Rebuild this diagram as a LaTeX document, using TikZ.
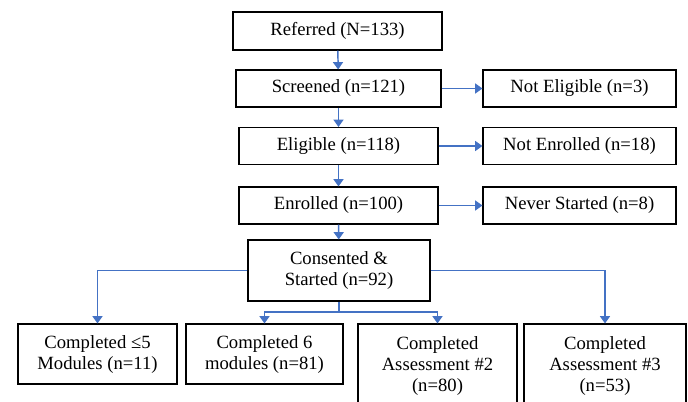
\documentclass[tikz,border=0pt]{standalone}
\usepackage{fontspec}
\setmainfont{Liberation Serif}
\usetikzlibrary{arrows.meta}
\definecolor{flowblue}{RGB}{68,114,196}

\begin{document}
\begin{tikzpicture}[x=0.75pt, y=-0.75pt,
  box/.style={draw, line width=0.8pt, align=center, inner sep=2pt, font=\fontsize{14}{15.75}\selectfont},
  flow/.style={flowblue, line width=1.1pt, -{Triangle[width=7.5pt,length=5.5pt]}},
  link/.style={flowblue, line width=1.1pt}]
  \useasboundingbox (0,0) rectangle (688,401);

  % main column
  \node[box, minimum width=156.75pt, minimum height=28.5pt] (ref) at (337.5,31) {Referred (N=133)};
  \node[box, minimum width=153.75pt, minimum height=27.75pt] (scr) at (338.5,88.5) {Screened (n=121)};
  \node[box, minimum width=149.25pt, minimum height=27.75pt] (elig) at (338.5,146) {Eligible (n=118)};
  \node[box, minimum width=149.25pt, minimum height=27.75pt] (enr) at (338.5,205.5) {Enrolled (n=100)};
  \node[box, minimum width=136.5pt, minimum height=45.75pt] (cons) at (339,270.5) {Consented \&\\Started (n=92)};

  % exclusions
  \node[box, minimum width=144.75pt, minimum height=27.75pt] (notelig) at (579.5,88.5) {Not Eligible (n=3)};
  \node[box, minimum width=144.75pt, minimum height=27.75pt] (notenr) at (579.5,146) {Not Enrolled (n=18)};
  \node[box, minimum width=144.75pt, minimum height=27.75pt] (never) at (579.5,205.5) {Never Started (n=8)};

  % outcomes
  \node[box, minimum width=119.25pt, minimum height=45pt] (fewmod) at (97.5,354) {Completed ≤5\\Modules (n=11)};
  \node[box, minimum width=117.75pt, minimum height=45pt] (sixmod) at (264.5,354) {Completed 6\\modules (n=81)};
  \node[box, minimum width=119.25pt, minimum height=63pt] (assesstwo) at (437.5,366) {Completed\\Assessment \#2\\(n=80)};
  \node[box, minimum width=121.5pt, minimum height=63pt] (assessthree) at (605,366) {Completed\\Assessment \#3\\(n=53)};

  \draw[flow] (ref) -- (scr);
  \draw[flow] (scr) -- (elig);
  \draw[flow] (elig) -- (enr);
  \draw[flow] (enr) -- (cons);
  \draw[flow] (scr) -- (notelig);
  \draw[flow] (elig) -- (notenr);
  \draw[flow] (enr) -- (never);

  \draw[flow] (cons.west) -| (fewmod.north);
  \draw[flow] (cons.east) -| (assessthree.north);
  \coordinate (split) at (339,312);
  \draw[link] (cons.south) -- (split);
  \draw[flow] (split) -| (sixmod.north);
  \draw[flow] (split) -| (assesstwo.north);
\end{tikzpicture}
\end{document}
